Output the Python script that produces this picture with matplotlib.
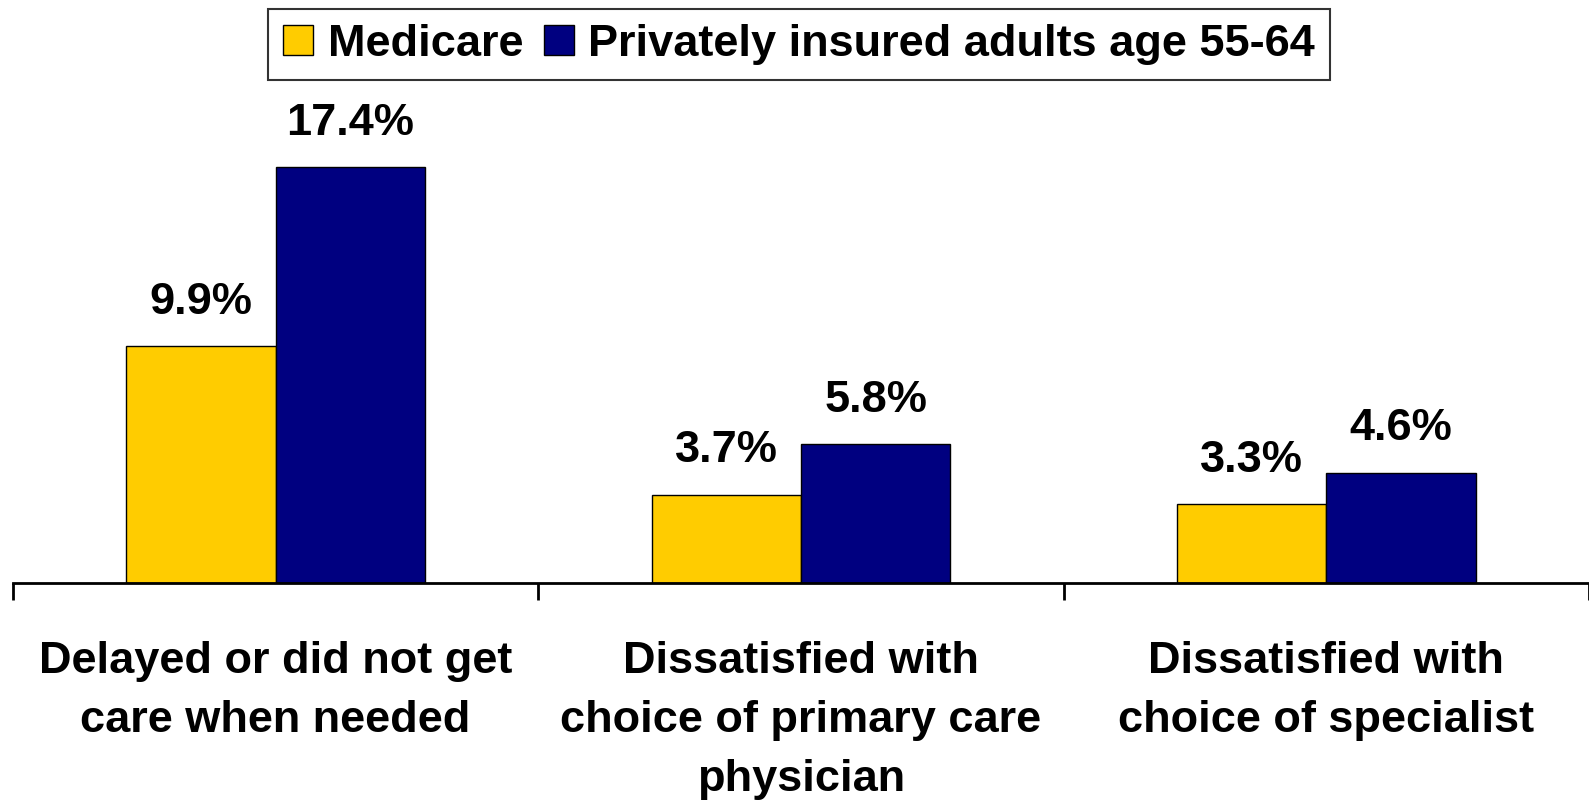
import matplotlib
matplotlib.use("Agg")
import matplotlib.pyplot as plt
import numpy as np
from matplotlib.patches import Patch

categories = ["Delayed or did not get\ncare when needed",
              "Dissatisfied with\nchoice of primary care\nphysician",
              "Dissatisfied with\nchoice of specialist"]
series_names = ["Medicare", "Privately insured adults age 55-64"]
medicare = [9.9, 3.7, 3.3]
private = [17.4, 5.8, 4.6]
colors = ["#FFCC00", "#000080"]

plt.rcParams['font.family'] = ['Liberation Sans', 'DejaVu Sans']
FS = 32.5

fig = plt.figure(figsize=(15.89, 8.06), dpi=100)
ax = fig.add_axes([13/1589, 223/806, 1 - 13/1589, 583/806])

x = np.arange(len(categories))
w = 0.284
b1 = ax.bar(x - w/2, medicare, w, color=colors[0], edgecolor="black", linewidth=1)
b2 = ax.bar(x + w/2, private, w, color=colors[1], edgecolor="black", linewidth=1)

for bars, vals in ((b1, medicare), (b2, private)):
    for r, v in zip(bars, vals):
        ax.annotate(f"{v:.1f}%", (r.get_x() + r.get_width()/2, r.get_height()),
                    xytext=(0, 17), textcoords="offset points",
                    ha="center", va="bottom", fontsize=FS, fontweight="bold")

ax.set_xlim(-0.5, len(categories) - 0.5)
ax.set_ylim(0, 583/23.9)
for s in ("top", "right", "left"):
    ax.spines[s].set_visible(False)
ax.spines["bottom"].set_linewidth(2)
ax.set_yticks([])
ax.set_xticks(x)
ax.set_xticklabels(categories, fontsize=FS, fontweight="bold", linespacing=1.55)
ax.tick_params(axis="x", which="major", length=0, pad=42)
ax.set_xticks(np.arange(-0.5, len(categories) + 0.5, 1), minor=True)
ax.tick_params(axis="x", which="minor", length=12, width=2, direction="out")

handles = [Patch(facecolor=c, edgecolor="black", linewidth=1) for c in colors]
leg = fig.legend(handles, series_names, loc="upper center", bbox_to_anchor=(0.503, 0.989),
                 ncol=2, prop={"weight": "bold", "size": FS},
                 frameon=True, fancybox=False, handlelength=0.66, handleheight=0.66,
                 handletextpad=0.33, columnspacing=0.45, borderpad=0.33,
                 edgecolor="black", borderaxespad=0)
leg.get_frame().set_linewidth(1.5)

fig.savefig("out.png", dpi=100)
